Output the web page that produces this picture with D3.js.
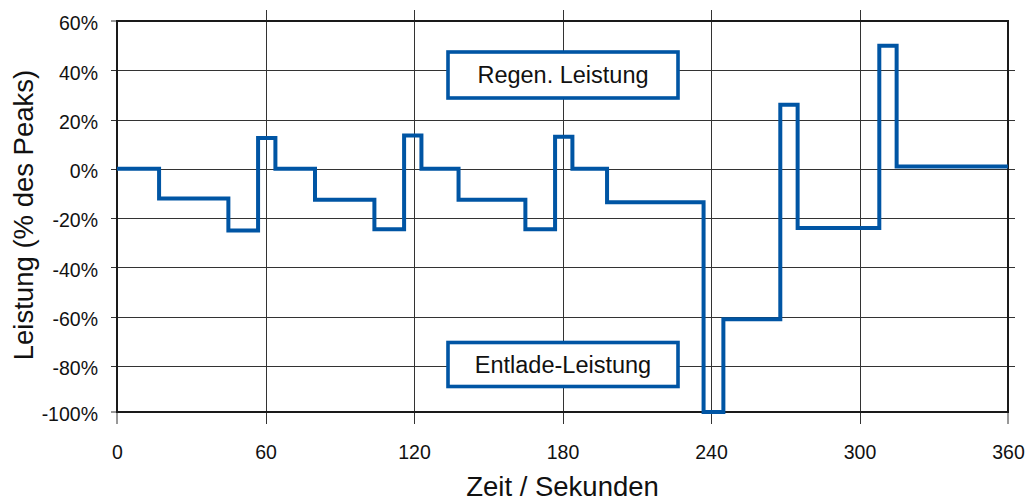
<!DOCTYPE html>
<html>
<head>
<meta charset="utf-8">
<script src="https://cdn.jsdelivr.net/npm/d3@7"></script>
<style>
  html, body { margin: 0; padding: 0; background: #fff; }
  svg { display: block; font-family: "Liberation Sans", Arial, sans-serif; }
</style>
</head>
<body>
<svg id="chart" width="1032" height="501"></svg>
<script>
// Step profile: value holds from times[i] until times[i+1]
const times  = [0, 17, 45, 57, 64, 80, 104, 116, 123, 138, 165, 177, 184, 198, 237, 245, 268, 275, 308, 315, 360];
const values = [0, -12, -25, 12.5, 0, -12.5, -24.5, 13.5, 0, -12.5, -24.5, 13, 0, -13.5, -100, -61, 26, -24, 50, 1, 1];
const xTicks = [0, 60, 120, 180, 240, 300, 360];
const yTicks = [-100, -80, -60, -40, -20, 0, 20, 40, 60];
const xTitle = "Zeit / Sekunden";
const yTitle = "Leistung (% des Peaks)";
const labelTop = "Regen. Leistung";
const labelBottom = "Entlade-Leistung";

(function () {
const svg = d3.select("#chart");
const blue = "#0055a4";

const x = d3.scaleLinear().domain([0, 360]).range([117, 1008]);
const y = d3.scaleLinear().domain([-100, -80, 60]).range([412, 366, 21]);

const pLeft = x(0), pRight = x(360), pTop = y(60), pBottom = y(-100);

// horizontal gridlines + left ticks
svg.append("g").selectAll("line").data(yTicks.filter(d => d !== 60 && d !== -100)).join("line")
  .attr("x1", pLeft - 6).attr("x2", pRight + 7)
  .attr("y1", d => Math.round(y(d)) + 0.5).attr("y2", d => Math.round(y(d)) + 0.5)
  .attr("stroke", "#333").attr("stroke-width", 1);

// vertical gridlines extending past frame
svg.append("g").selectAll("line").data(xTicks.filter(d => d !== 0 && d !== 360)).join("line")
  .attr("x1", d => Math.round(x(d)) + 0.5).attr("x2", d => Math.round(x(d)) + 0.5)
  .attr("y1", pTop - 11).attr("y2", pBottom + 12)
  .attr("stroke", "#333").attr("stroke-width", 1);
// ticks at the frame edges
svg.append("g").selectAll("line").data([0, 360]).join("line")
  .attr("x1", d => x(d)).attr("x2", d => x(d))
  .attr("y1", pBottom).attr("y2", pBottom + 12)
  .attr("stroke", "#333");
svg.append("g").selectAll("line").data([60, -100]).join("line")
  .attr("x1", pLeft - 6).attr("x2", pLeft)
  .attr("y1", d => y(d)).attr("y2", d => y(d))
  .attr("stroke", "#333");

// frame
svg.append("rect")
  .attr("x", pLeft).attr("y", pTop)
  .attr("width", pRight - pLeft).attr("height", pBottom - pTop)
  .attr("fill", "none").attr("stroke", "#1a1a1a").attr("stroke-width", 2);

// axis tick labels via d3 axes
const xAxis = svg.append("g").attr("transform", `translate(0,${pBottom})`)
  .call(d3.axisBottom(x).tickValues(xTicks).tickFormat(d3.format("d")).tickSize(0).tickPadding(33));
xAxis.select(".domain").remove();
xAxis.selectAll("text").attr("font-size", 19.5).attr("fill", "#111")
  .attr("font-family", "Liberation Sans, Arial, sans-serif");

const yAxis = svg.append("g").attr("transform", `translate(${pLeft},0)`)
  .call(d3.axisLeft(y).tickValues(yTicks).tickFormat(d => d + "%").tickSize(0).tickPadding(19));
yAxis.select(".domain").remove();
yAxis.selectAll("text").attr("font-size", 19.5).attr("fill", "#111").attr("dy", "0.45em")
  .attr("font-family", "Liberation Sans, Arial, sans-serif");

// step line
const pts = times.map((t, i) => [t, values[i]]);
const line = d3.line().x(d => x(d[0])).y(d => y(d[1])).curve(d3.curveStepAfter);
svg.append("path").datum(pts)
  .attr("d", line)
  .attr("fill", "none").attr("stroke", blue).attr("stroke-width", 4)
  .attr("stroke-linejoin", "miter");

// annotation boxes
function box(cx, cy, w, h, txt) {
  const g = svg.append("g");
  g.append("rect").attr("x", cx - w / 2).attr("y", cy - h / 2).attr("width", w).attr("height", h)
    .attr("fill", "#fff").attr("stroke", blue).attr("stroke-width", 3.6);
  g.append("text").attr("x", cx).attr("y", cy).attr("dy", "0.36em")
    .attr("text-anchor", "middle").attr("font-size", 23.5).attr("fill", "#111").text(txt);
}
box(563, 75, 230, 46, labelTop);
box(563, 364.5, 230, 44, labelBottom);

// axis titles
svg.append("text").attr("x", (pLeft + pRight) / 2).attr("y", 496)
  .attr("text-anchor", "middle").attr("font-size", 27.5).attr("fill", "#111").text(xTitle);
svg.append("text").attr("transform", `translate(33,${215}) rotate(-90)`)
  .attr("text-anchor", "middle").attr("font-size", 27.5).attr("fill", "#111").text(yTitle);
})();
</script>
</body>
</html>
